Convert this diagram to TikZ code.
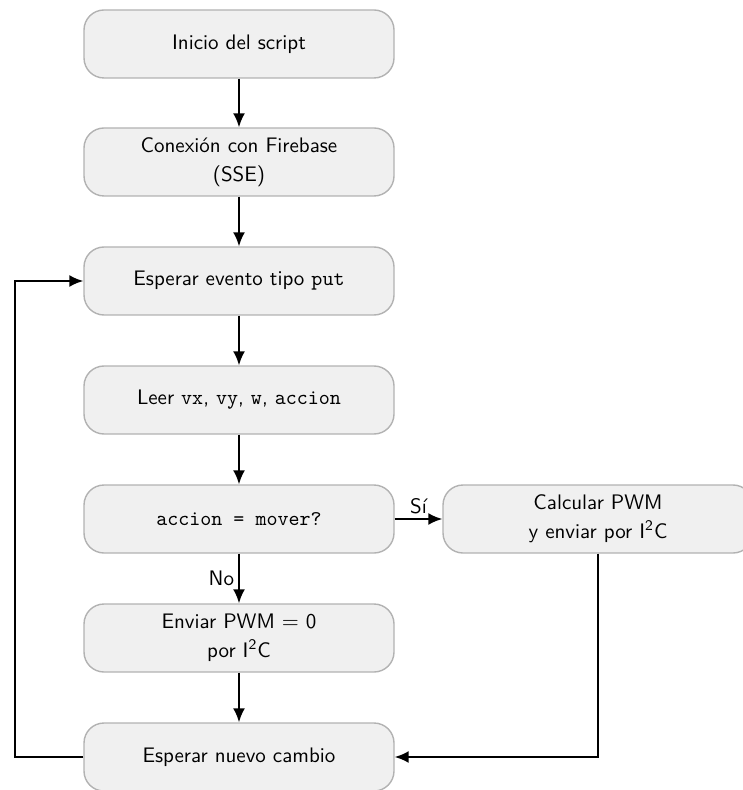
\documentclass[tikz,border=0pt]{standalone}
\usetikzlibrary{arrows.meta}
\begin{document}
\begin{tikzpicture}[x=0.5pt,y=-0.5pt,
  box/.style={draw=black!30, fill=black!6, rounded corners=10pt, minimum width=155pt, minimum height=34pt, align=center, font=\sffamily\fontsize{10.5pt}{14.5pt}\selectfont, line width=0.7pt, inner sep=2pt},
  arr/.style={-{Latex[length=7pt,width=6pt]}, line width=1pt},
  lbl/.style={font=\sffamily\fontsize{10.5pt}{13pt}\selectfont, inner sep=2pt}]
\useasboundingbox (0,0) rectangle (742,790);
\node[box] (n1) at (239,44) {Inicio del script};
\node[box] (n2) at (239,162) {Conexión con Firebase\\(SSE)};
\node[box] (n3) at (239,281) {Esperar evento tipo \texttt{put}};
\node[box] (n4) at (239,400) {Leer \texttt{vx}, \texttt{vy}, \texttt{w}, \texttt{accion}};
\node[box] (n5) at (239,519) {\texttt{accion = mover?}};
\node[box] (n6) at (239,638) {Enviar PWM $=$ 0\\por I\textsuperscript{2}C};
\node[box] (n7) at (239,757) {Esperar nuevo cambio};
\node[box] (r) at (598,519) {Calcular PWM\\y enviar por I\textsuperscript{2}C};
\coordinate (lx) at (15,0);
\draw[arr] (n1) -- (n2);
\draw[arr] (n2) -- (n3);
\draw[arr] (n3) -- (n4);
\draw[arr] (n4) -- (n5);
\draw[arr] (n5) -- node[lbl, left] {No} (n6);
\draw[arr] (n6) -- (n7);
\draw[arr] (n5) -- node[lbl, above] {Sí} (r);
\draw[arr] (r.south) |- (n7.east);
\draw[arr] (n7.west) -- (n7.west -| lx) |- (n3.west);
\end{tikzpicture}
\end{document}
